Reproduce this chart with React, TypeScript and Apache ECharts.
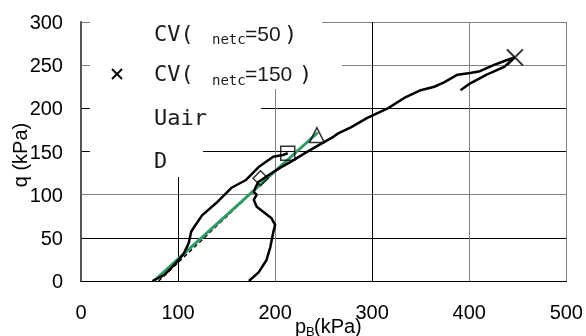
import React, { useEffect, useRef } from "react";
import * as echarts from "echarts";

// ---- data ----
const xTicks = [0, 100, 200, 300, 400, 500];
const yTicks = [0, 50, 100, 150, 200, 250, 300];

const cv50X = [73.6, 86, 98, 106, 111, 113.5, 116.6, 124.7, 139, 155, 170, 183, 198, 208, 213];
const cv50Y = [0, 7, 21, 32, 44, 57, 62.5, 76, 90, 108, 117, 132, 144, 146, 148];

const cv150X = [173, 183, 191, 195, 198, 200, 196, 188, 181, 178, 181, 178, 180, 183, 195, 205, 216, 232, 249, 260, 265, 278, 295, 316, 333, 350, 364, 374, 388, 401, 411, 425, 439, 447, 436, 418, 401, 391];
const cv150Y = [0, 10, 24, 39, 56, 65, 73, 80, 86, 94, 100, 103, 109, 115, 124, 131, 138, 149, 160, 167, 171, 178, 189, 200, 212, 221, 225, 230, 239, 241, 243, 250, 256, 259, 248, 239, 229, 221];

const uairX = [75, 244];
const uairY = [0, 172];

const dX = [80, 184];
const dY = [0, 111];

const markCV50 = [213, 148];
const markCV150 = [447, 259];
const markUair = [243, 169];
const markD = [185, 119];

const zip = (xs: number[], ys: number[]) => xs.map((x, i) => [x, ys[i]]);

const MONO = "'DejaVu Sans Mono', 'Liberation Mono', monospace";
const SANS = "'Liberation Sans', Arial, sans-serif";
const TXT = "#1a1a1a";

export default function App() {
  const ref = useRef<HTMLDivElement>(null);
  useEffect(() => {
    if (!ref.current) return;
    const chart = echarts.init(ref.current, undefined, { renderer: "svg" });
    const gX = ["#000", "#000", "#808080", "#000", "#808080", "#808080"];
    const gY = ["#000", "#000", "#808080", "#000", "#000", "#808080", "#808080"];
    const hollow = { color: "rgba(0,0,0,0)", borderColor: "#000", borderWidth: 1.5 };
    chart.setOption({
      animation: false,
      grid: { left: 81, top: 22, width: 489, height: 259, containLabel: false },
      xAxis: {
        type: "value",
        min: xTicks[0],
        max: xTicks[xTicks.length - 1],
        interval: 100,
        axisLine: { show: true, lineStyle: { color: "#000", width: 1 } },
        axisTick: { show: false },
        axisLabel: { fontFamily: SANS, fontSize: 20, color: "#000", margin: 21 },
        splitLine: { show: true, lineStyle: { color: gX, width: 1 } },
      },
      yAxis: {
        type: "value",
        min: yTicks[0],
        max: yTicks[yTicks.length - 1],
        interval: 50,
        axisLine: { show: true, lineStyle: { color: "#555", width: 2 } },
        axisTick: { show: false },
        axisLabel: { fontFamily: SANS, fontSize: 20, color: "#000", margin: 18 },
        splitLine: { show: true, lineStyle: { color: gY, width: 1 } },
      },
      graphic: [
        // white text boxes of the legend entries that hide grid lines
        { type: "rect", z: 1, shape: { x: 90, y: 14, width: 232, height: 31 }, style: { fill: "#fff" } },
        { type: "rect", z: 1, shape: { x: 90, y: 45, width: 252, height: 44 }, style: { fill: "#fff" } },
        { type: "rect", z: 1, shape: { x: 90, y: 89, width: 171, height: 46 }, style: { fill: "#fff" } },
        { type: "rect", z: 1, shape: { x: 90, y: 135, width: 113, height: 42 }, style: { fill: "#fff" } },
        // legend texts
        { type: "text", z: 10, x: 154, y: 33, style: { text: "CV(", font: `22px ${MONO}`, fill: TXT, verticalAlign: "middle" } },
        { type: "text", z: 10, x: 212, y: 39, style: { text: "netc", font: `14px ${MONO}`, fill: TXT, verticalAlign: "middle" } },
        { type: "text", z: 10, x: 245, y: 33, style: { text: "=50", font: `21px ${SANS}`, fill: TXT, verticalAlign: "middle" } },
        { type: "text", z: 10, x: 284, y: 33, style: { text: ")", font: `22px ${MONO}`, fill: TXT, verticalAlign: "middle" } },
        { type: "line", z: 10, shape: { x1: 112, y1: 69, x2: 122, y2: 79 }, style: { stroke: "#000", lineWidth: 2 } },
        { type: "line", z: 10, shape: { x1: 122, y1: 69, x2: 112, y2: 79 }, style: { stroke: "#000", lineWidth: 2 } },
        { type: "text", z: 10, x: 154, y: 73, style: { text: "CV(", font: `22px ${MONO}`, fill: TXT, verticalAlign: "middle" } },
        { type: "text", z: 10, x: 212, y: 80, style: { text: "netc", font: `14px ${MONO}`, fill: TXT, verticalAlign: "middle" } },
        { type: "text", z: 10, x: 245, y: 73, style: { text: "=150", font: `21px ${SANS}`, fill: TXT, verticalAlign: "middle" } },
        { type: "text", z: 10, x: 299, y: 73, style: { text: ")", font: `22px ${MONO}`, fill: TXT, verticalAlign: "middle" } },
        { type: "text", z: 10, x: 154, y: 117, style: { text: "Uair", font: `22px ${MONO}`, fill: TXT, verticalAlign: "middle" } },
        { type: "text", z: 10, x: 154, y: 160, style: { text: "D", font: `22px ${MONO}`, fill: TXT, verticalAlign: "middle" } },
        // axis names
        { type: "text", z: 10, x: 295, y: 326, style: { text: "p", font: `20px ${SANS}`, fill: "#000", verticalAlign: "middle" } },
        { type: "text", z: 10, x: 306, y: 331, style: { text: "B", font: `13px ${SANS}`, fill: "#000", verticalAlign: "middle" } },
        { type: "text", z: 10, x: 314, y: 326, style: { text: "(kPa)", font: `20px ${SANS}`, fill: "#000", verticalAlign: "middle" } },
        { type: "text", z: 10, x: 20, y: 155, rotation: Math.PI / 2, style: { text: "q (kPa)", font: `20px ${SANS}`, fill: "#000", align: "center", verticalAlign: "middle" } },
      ],
      series: [
        { type: "line", data: zip(dX, dY), symbol: "none", z: 2, lineStyle: { color: "#000", width: 1.5, type: [4, 3] } },
        { type: "line", data: zip(uairX, uairY), symbol: "none", z: 3, lineStyle: { color: "#339966", width: 3 } },
        { type: "line", data: zip(cv50X, cv50Y), symbol: "none", z: 4, lineStyle: { color: "#000", width: 2.5 } },
        { type: "line", data: zip(cv150X, cv150Y), symbol: "none", z: 4, lineStyle: { color: "#000", width: 2.5 } },
        { type: "scatter", z: 5, data: [markCV50], symbol: "rect", symbolSize: 14, itemStyle: hollow },
        { type: "scatter", z: 5, data: [markCV150], symbol: "path://M0,0L10,10M10,0L0,10", symbolSize: 16, itemStyle: { color: "rgba(0,0,0,0)", borderColor: "#000", borderWidth: 2 } },
        { type: "scatter", z: 5, data: [markUair], symbol: "triangle", symbolSize: 15, itemStyle: hollow },
        { type: "scatter", z: 5, data: [markD], symbol: "diamond", symbolSize: 15, itemStyle: hollow },
      ],
    });
    return () => chart.dispose();
  }, []);
  return <div ref={ref} style={{ position: "fixed", left: 0, top: 0, width: 586, height: 336 }} />;
}
